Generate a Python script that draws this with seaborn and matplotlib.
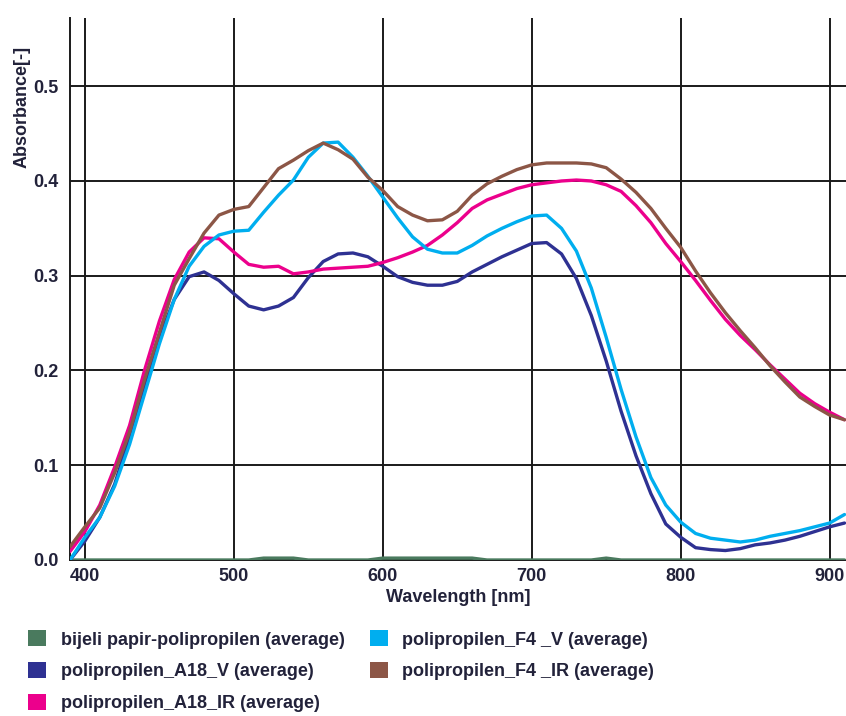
import numpy as np
import pandas as pd
import seaborn as sns
import matplotlib.pyplot as plt
from matplotlib.patches import Patch

# wavelength grid [nm]
wavelength = [390, 400, 410, 420, 430, 440, 450, 460, 470, 480, 490, 500, 510, 520,
              530, 540, 550, 560, 570, 580, 590, 600, 610, 620, 630, 640, 650, 660,
              670, 680, 690, 700, 710, 720, 730, 740, 750, 760, 770, 780, 790, 800,
              810, 820, 830, 840, 850, 860, 870, 880, 890, 900, 910]

bijeli_papir = [0.0, 0.0, 0.0, 0.0, 0.0, 0.0, 0.0, 0.0, 0.0, 0.0, 0.0, 0.0, 0.0, 0.002,
                0.002, 0.002, 0.0, 0.0, 0.0, 0.0, 0.0, 0.002, 0.002, 0.002, 0.002, 0.002, 0.002, 0.002,
                0.0, 0.0, 0.0, 0.0, 0.0, 0.0, 0.0, 0.0, 0.002, 0.0, 0.0, 0.0, 0.0, 0.0,
                0.0, 0.0, 0.0, 0.0, 0.0, 0.0, 0.0, 0.0, 0.0, 0.0, 0.0]

a18_v = [0.0, 0.02, 0.045, 0.08, 0.13, 0.185, 0.235, 0.275, 0.299, 0.304, 0.295, 0.281, 0.268, 0.264,
         0.268, 0.277, 0.298, 0.315, 0.323, 0.324, 0.320, 0.31, 0.299, 0.293, 0.29, 0.29, 0.294, 0.304,
         0.312, 0.32, 0.327, 0.334, 0.335, 0.323, 0.297, 0.258, 0.21, 0.157, 0.11, 0.07, 0.038, 0.024,
         0.013, 0.011, 0.01, 0.012, 0.016, 0.018, 0.021, 0.025, 0.03, 0.035, 0.039]

a18_ir = [0.009, 0.03, 0.058, 0.098, 0.142, 0.2, 0.252, 0.296, 0.325, 0.34, 0.339, 0.325, 0.312, 0.309,
          0.31, 0.302, 0.304, 0.307, 0.308, 0.309, 0.31, 0.314, 0.319, 0.325, 0.332, 0.343, 0.356, 0.371,
          0.38, 0.386, 0.392, 0.396, 0.398, 0.4, 0.401, 0.4, 0.396, 0.389, 0.374, 0.356, 0.334, 0.315,
          0.295, 0.274, 0.254, 0.237, 0.222, 0.206, 0.191, 0.176, 0.165, 0.156, 0.148]

f4_v = [0.0, 0.024, 0.045, 0.078, 0.122, 0.175, 0.228, 0.275, 0.31, 0.331, 0.343, 0.347, 0.348, 0.367,
        0.385, 0.401, 0.425, 0.44, 0.441, 0.425, 0.405, 0.383, 0.361, 0.341, 0.328, 0.324, 0.324, 0.332,
        0.342, 0.35, 0.357, 0.363, 0.364, 0.35, 0.326, 0.287, 0.235, 0.18, 0.13, 0.087, 0.058, 0.04,
        0.028, 0.023, 0.021, 0.019, 0.021, 0.025, 0.028, 0.031, 0.035, 0.039, 0.048]

f4_ir = [0.014, 0.035, 0.055, 0.092, 0.135, 0.19, 0.24, 0.29, 0.318, 0.345, 0.364, 0.37, 0.373, 0.393,
         0.413, 0.422, 0.432, 0.44, 0.433, 0.423, 0.404, 0.39, 0.373, 0.364, 0.358, 0.359, 0.368, 0.385,
         0.397, 0.405, 0.412, 0.417, 0.419, 0.419, 0.419, 0.418, 0.414, 0.402, 0.388, 0.371, 0.35, 0.33,
         0.305, 0.282, 0.261, 0.242, 0.224, 0.205, 0.188, 0.172, 0.162, 0.153, 0.148]

labels = ['bijeli papir-polipropilen (average)', 'polipropilen_A18_V (average)',
          'polipropilen_A18_IR (average)', 'polipropilen_F4 _V (average)',
          'polipropilen_F4 _IR (average)']
colors = ['#4a7a5e', '#2e3192', '#ec008c', '#00aeef', '#8c5646']

series = [bijeli_papir, a18_v, a18_ir, f4_v, f4_ir]
frames = []
for lab, vals in zip(labels, series):
    frames.append(pd.DataFrame({'wl': wavelength, 'abs': vals, 'serie': lab}))
df = pd.concat(frames, ignore_index=True)

sns.set_style('white')
plt.rcParams['font.family'] = ['Liberation Sans', 'DejaVu Sans']
plt.rcParams['font.weight'] = 'bold'
txt = '#22223a'
fs = 13

fig = plt.figure(figsize=(8.46, 7.16), dpi=100)
ax = fig.add_axes([70 / 846, 156 / 716, 1 - 70 / 846, 542 / 716])

sns.lineplot(data=df, x='wl', y='abs', hue='serie', hue_order=labels,
             palette=dict(zip(labels, colors)), linewidth=2.4, legend=False,
             ax=ax, zorder=3)

ax.set_xlim(390, 911)
ax.set_ylim(0, 0.572)
ax.set_xticks([400, 500, 600, 700, 800, 900])
ax.set_yticks([0.0, 0.1, 0.2, 0.3, 0.4, 0.5])
ax.set_yticklabels(['0.0', '0.1', '0.2', '0.3', '0.4', '0.5'])
ax.grid(True, color='#1a1a1a', linewidth=1.4)
for s in ['top', 'right']:
    ax.spines[s].set_visible(False)
for s in ['left', 'bottom']:
    ax.spines[s].set_color('#1a1a1a')
    ax.spines[s].set_linewidth(1.4)
ax.tick_params(direction='out', length=6, width=1.4, color='#1a1a1a',
               labelsize=fs, labelcolor=txt, pad=2)
ax.tick_params(axis='x', length=4)
for t in ax.get_xticklabels() + ax.get_yticklabels():
    t.set_fontweight('bold')

ax.set_xlabel('Wavelength [nm]', fontsize=fs, fontweight='bold', color=txt, labelpad=3)
ax.set_ylabel('Absorbance[-]', fontsize=fs, fontweight='bold', color=txt)
ax.yaxis.set_label_coords(-0.051, 0.836)

handles = [Patch(facecolor=c, edgecolor='none') for c in colors]
fig.legend(handles, labels, loc='upper left', bbox_to_anchor=(12 / 846, 1 - 614 / 716),
           ncol=2, frameon=False, handlelength=1.0, handleheight=1.0,
           handletextpad=0.8, labelspacing=0.75, columnspacing=1.4, labelcolor=txt,
           prop={'weight': 'bold', 'size': fs})

fig.savefig('out.png', dpi=100)
